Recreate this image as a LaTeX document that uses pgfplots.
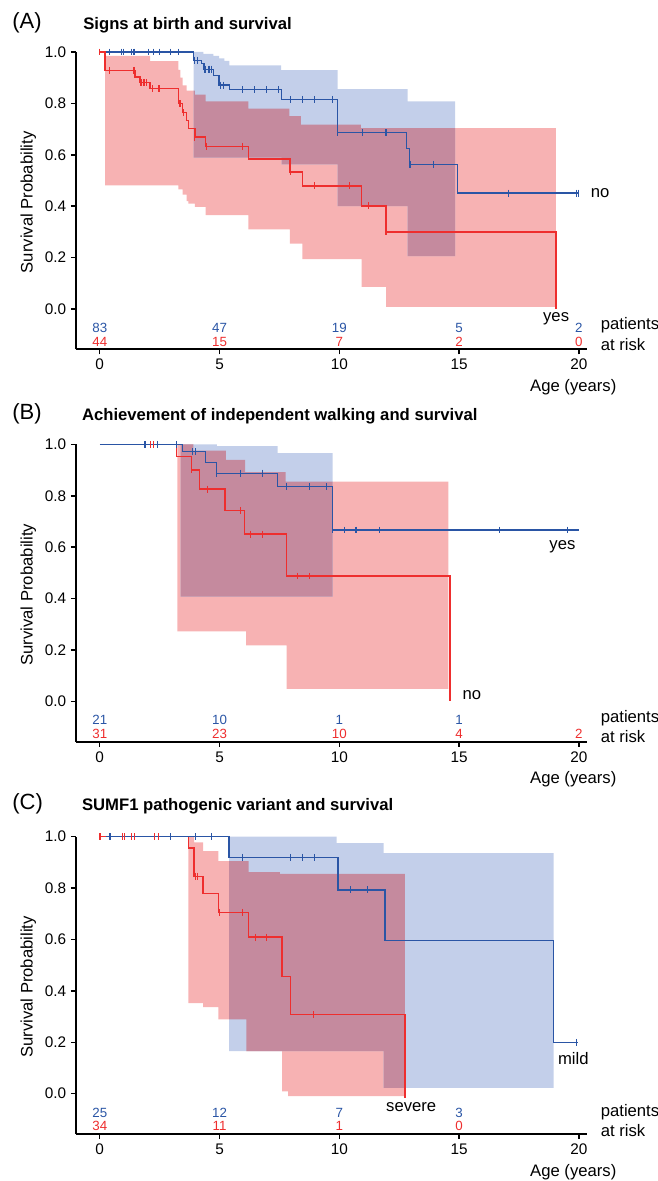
\documentclass[border=0pt]{standalone}
\usepackage{pgfplots}
\pgfplotsset{compat=1.18}
\usepgfplotslibrary{fillbetween}
\usepackage{fontspec}
\setmainfont{Liberation Sans}

\definecolor{kmred}{HTML}{EE2E2E}
\definecolor{kmblue}{HTML}{2A55A5}
\definecolor{bandred}{HTML}{F7B2B3}
\definecolor{bandblue}{HTML}{C3CFEA}
\definecolor{bandboth}{HTML}{C58A9E}

\newcommand{\numfont}{\fontsize{10}{12}\selectfont}
\newcommand{\labfont}{\fontsize{12.5}{14}\selectfont}

\tikzset{
  bn/.style={text=kmblue, font=\numfont},
  rn/.style={text=kmred, font=\numfont},
}
\pgfplotsset{
  kmaxis/.style={
    scale only axis, width=383.6pt, height=223pt,
    xmin=-1, xmax=20.35, ymin=-0.157, ymax=1.0,
    axis lines=left, axis line style={-, line width=1.4pt},
    xtick={0,5,10,15,20}, ytick={0,0.2,0.4,0.6,0.8,1},
    yticklabel style={/pgf/number format/.cd, fixed, fixed zerofill, precision=1},
    /pgf/number format/assume math mode=true,
    tick style={black, line width=1.1pt},
    tick align=outside, major tick length=3.75pt,
    tick label style={font=\fontsize{11.5}{13}\selectfont},
    clip=false, anchor=south west,
  },
  bnd/.style={draw=none, const plot, forget plot},
  kmline/.style={const plot, line width=1.0pt, forget plot},
  cens/.style={only marks, mark=|, mark size=2.6pt, mark options={line width=0.9pt}, forget plot},
}

\begin{document}
\begin{tikzpicture}

% ---------------- (A)
\node[anchor=west, font=\fontsize{16.5}{18}\selectfont] at (5.7pt,-17.25pt) {(A)};
\node[anchor=west, font=\fontsize{12.5}{14}\selectfont\bfseries] at (59pt,-18.75pt) {Signs at birth and survival};
\begin{axis}[kmaxis, at={(56.85pt,-261.98pt)}]
% confidence bands: red, blue, and their overlap
\addplot[bnd, name path=aru] coordinates {(0.22,0.985) (2.10,0.964) (3.28,0.93) (3.37,0.90) (3.46,0.87) (3.63,0.85) (3.97,0.834) (4.42,0.808) (6.20,0.78) (7.91,0.75) (8.40,0.717) (10.90,0.704) (19.04,0.704)};
\addplot[bnd, name path=arl] coordinates {(0.22,0.481) (3.28,0.465) (3.46,0.445) (3.63,0.42) (3.70,0.41) (3.97,0.397) (4.42,0.365) (6.20,0.31) (7.94,0.254) (8.46,0.194) (10.93,0.086) (11.95,0.008) (19.04,0.008)};
\addplot[fill=bandred] fill between[of=aru and arl];
\addplot[bnd, name path=abu] coordinates {(3.92,1.0) (4.32,0.993) (4.74,0.985) (4.98,0.975) (5.20,0.965) (5.41,0.948) (7.57,0.929) (9.93,0.855) (12.85,0.808) (14.83,0.808)};
\addplot[bnd, name path=abl] coordinates {(3.92,0.589) (7.59,0.563) (9.93,0.40) (12.85,0.206) (14.83,0.206)};
\addplot[fill=bandblue] fill between[of=abu and abl];
\addplot[bnd, name path=aou] coordinates {(3.92,0.85) (3.97,0.834) (4.42,0.808) (6.20,0.78) (7.91,0.75) (8.40,0.717) (10.90,0.704) (14.83,0.704)};
\addplot[fill=bandboth] fill between[of=aou and abl];
% curves
\addplot[kmline, color=kmred] coordinates {(0,1) (0.22,0.929) (1.47,0.903) (1.68,0.881) (2.10,0.857) (3.28,0.799) (3.46,0.764) (3.63,0.734) (3.70,0.702) (3.97,0.669) (4.42,0.633) (6.20,0.583) (7.94,0.533) (8.46,0.479) (10.93,0.401) (11.95,0.30) (19.04,0.0)};
\addplot[kmline, color=kmblue] coordinates {(0.25,1) (3.92,0.968) (4.25,0.955) (4.35,0.933) (4.74,0.909) (4.98,0.871) (5.41,0.854) (7.59,0.816) (9.93,0.686) (12.81,0.624) (12.92,0.563) (14.92,0.451) (20.0,0.451)};
\addplot[cens, color=kmred] coordinates {(0,1) (0.40,0.929) (1.43,0.929) (1.72,0.881) (1.85,0.881) (1.96,0.881) (2.21,0.857) (2.47,0.857) (3.35,0.799) (3.49,0.764) (3.97,0.669) (4.46,0.633) (5.96,0.633) (7.97,0.533) (8.96,0.479) (10.44,0.479) (11.21,0.401) (11.95,0.30)};
\addplot[cens, color=kmblue] coordinates {(0.40,1) (0.91,1) (0.98,1) (1.33,1) (1.43,1) (2.03,1) (2.26,1) (2.48,1) (2.96,1) (3.28,1) (3.97,0.968) (4.08,0.968) (4.39,0.933) (4.56,0.933) (4.67,0.933) (5.04,0.871) (5.16,0.871) (5.96,0.854) (6.45,0.854) (6.96,0.854) (7.45,0.854) (7.97,0.816) (8.47,0.816) (8.96,0.816) (9.71,0.816) (9.93,0.686) (10.96,0.686) (11.95,0.686) (12.95,0.563) (13.92,0.563) (17.05,0.451) (19.9,0.451) (20.0,0.451)};
% annotations
\node[anchor=west, font=\labfont] at (axis cs:20.3,0.451) {no};
\node[font=\labfont] at (axis cs:19.05,-0.037) {yes};
\node[bn] at (axis cs:0,-0.073) {83};
\node[bn] at (axis cs:5,-0.073) {47};
\node[bn] at (axis cs:10,-0.073) {19};
\node[bn] at (axis cs:15,-0.073) {5};
\node[bn] at (axis cs:20,-0.073) {2};
\node[rn] at (axis cs:0,-0.127) {44};
\node[rn] at (axis cs:5,-0.127) {15};
\node[rn] at (axis cs:10,-0.127) {7};
\node[rn] at (axis cs:15,-0.127) {2};
\node[rn] at (axis cs:20,-0.127) {0};
\node[anchor=west, font=\labfont] at (axis cs:20.72,-0.065) {patients};
\node[anchor=west, font=\labfont] at (axis cs:20.72,-0.138) {at risk};
\node[anchor=east, font=\labfont, yshift=-28.3pt] at (axis cs:21.76,-0.157) {Age (years)};
\node[rotate=90, font=\labfont] at (axis cs:-2.98,0.415) {Survival Probability};
\end{axis}

% ---------------- (B)
\node[anchor=west, font=\fontsize{16.5}{18}\selectfont] at (5.7pt,-310pt) {(B)};
\node[anchor=west, font=\fontsize{12.5}{14}\selectfont\bfseries] at (58pt,-312.5pt) {Achievement of independent walking and survival};
\begin{axis}[kmaxis, at={(56.85pt,-556.3pt)}]
\addplot[bnd, name path=bru] coordinates {(3.24,1.0) (3.91,0.976) (5.26,0.94) (6.07,0.892) (7.76,0.855) (14.55,0.855)};
\addplot[bnd, name path=brl] coordinates {(3.24,0.272) (6.11,0.218) (7.80,0.049) (14.55,0.049)};
\addplot[fill=bandred] fill between[of=bru and brl];
\addplot[bnd, name path=bbu] coordinates {(3.38,1.0) (4.89,0.993) (7.42,0.966) (9.72,0.966)};
\addplot[bnd, name path=bbl] coordinates {(3.38,0.408) (9.72,0.408)};
\addplot[fill=bandblue] fill between[of=bbu and bbl];
\addplot[bnd, name path=bou] coordinates {(3.38,1.0) (3.91,0.976) (5.26,0.94) (6.07,0.892) (7.76,0.855) (9.72,0.855)};
\addplot[fill=bandboth] fill between[of=bou and bbl];
\addplot[kmline, color=kmred] coordinates {(0,1) (3.21,0.953) (3.84,0.901) (4.16,0.826) (5.23,0.743) (6.04,0.651) (7.79,0.488) (14.62,0.0)};
\addplot[kmline, color=kmblue] coordinates {(0,1) (3.46,0.972) (4.40,0.929) (4.88,0.888) (7.42,0.836) (9.72,0.667) (20,0.667)};
\addplot[cens, color=kmred] coordinates {(2.12,1) (2.24,1) (3.84,0.901) (4.51,0.826) (5.86,0.743) (6.30,0.651) (6.79,0.651) (8.27,0.488) (8.75,0.488)};
\addplot[cens, color=kmblue] coordinates {(1.89,1) (2.40,1) (3.21,1) (3.88,0.972) (3.98,0.972) (4.86,0.888) (5.86,0.888) (6.78,0.888) (7.78,0.836) (8.75,0.836) (9.48,0.836) (9.72,0.667) (10.22,0.667) (10.70,0.667) (11.68,0.667) (16.68,0.667) (19.53,0.667)};
\node[anchor=east, font=\labfont] at (axis cs:20.05,0.603) {yes};
\node[anchor=west, font=\labfont] at (axis cs:14.95,0.026) {no};
\node[bn] at (axis cs:0,-0.073) {21};
\node[bn] at (axis cs:5,-0.073) {10};
\node[bn] at (axis cs:10,-0.073) {1};
\node[bn] at (axis cs:15,-0.073) {1};
\node[rn] at (axis cs:0,-0.127) {31};
\node[rn] at (axis cs:5,-0.127) {23};
\node[rn] at (axis cs:10,-0.127) {10};
\node[rn] at (axis cs:15,-0.127) {4};
\node[rn] at (axis cs:20,-0.127) {2};
\node[anchor=west, font=\labfont] at (axis cs:20.72,-0.065) {patients};
\node[anchor=west, font=\labfont] at (axis cs:20.72,-0.138) {at risk};
\node[anchor=east, font=\labfont, yshift=-28.3pt] at (axis cs:21.76,-0.157) {Age (years)};
\node[rotate=90, font=\labfont] at (axis cs:-2.98,0.415) {Survival Probability};
\end{axis}

% ---------------- (C)
\node[anchor=west, font=\fontsize{16.5}{18}\selectfont] at (5.7pt,-603pt) {(C)};
\node[anchor=west, font=\fontsize{12.5}{14}\selectfont\bfseries] at (58pt,-605pt) {SUMF1 pathogenic variant and survival};
\begin{axis}[kmaxis, at={(56.85pt,-850.5pt)}]
\addplot[bnd, name path=cru] coordinates {(3.70,1.0) (3.94,0.978) (4.31,0.944) (4.95,0.905) (6.21,0.862) (7.52,0.855) (12.74,0.855)};
\addplot[bnd, name path=crl] coordinates {(3.70,0.352) (4.31,0.337) (4.95,0.289) (6.12,0.166) (7.61,0.009) (7.86,-0.01) (12.74,-0.01)};
\addplot[fill=bandred] fill between[of=cru and crl];
\addplot[bnd, name path=cbu] coordinates {(5.40,1.0) (9.89,0.975) (11.85,0.936) (18.95,0.936)};
\addplot[bnd, name path=cbl] coordinates {(5.40,0.166) (11.85,0.023) (18.95,0.023)};
\addplot[fill=bandblue] fill between[of=cbu and cbl];
\addplot[bnd, name path=cou] coordinates {(5.40,0.905) (6.21,0.862) (7.52,0.855) (12.74,0.855)};
\addplot[bnd, name path=col] coordinates {(5.40,0.289) (6.12,0.166) (11.85,0.023) (12.74,0.023)};
\addplot[fill=bandboth] fill between[of=cou and col];
\addplot[kmline, color=kmred] coordinates {(0,1) (3.70,0.956) (3.94,0.846) (4.31,0.778) (4.95,0.706) (6.21,0.609) (7.61,0.457) (7.95,0.307) (12.74,-0.016)};
\addplot[kmline, color=kmblue] coordinates {(0.25,1) (5.40,0.920) (9.95,0.793) (11.91,0.596) (18.95,0.2) (19.95,0.2)};
\addplot[cens, color=kmred] coordinates {(0.01,1) (0.95,1) (1.02,1) (1.34,1) (1.46,1) (2.30,1) (2.45,1) (3.98,0.846) (4.08,0.846) (5.01,0.706) (5.96,0.706) (6.49,0.609) (6.96,0.609) (8.92,0.307)};
\addplot[cens, color=kmblue] coordinates {(0.43,1) (2.96,1) (3.98,1) (4.66,1) (5.96,0.92) (7.95,0.92) (8.45,0.92) (8.95,0.92) (10.45,0.793) (11.18,0.793) (19.9,0.2)};
\node[font=\labfont] at (axis cs:19.77,0.138) {mild};
\node[font=\labfont] at (axis cs:13.0,-0.053) {severe};
\node[bn] at (axis cs:0,-0.073) {25};
\node[bn] at (axis cs:5,-0.073) {12};
\node[bn] at (axis cs:10,-0.073) {7};
\node[bn] at (axis cs:15,-0.073) {3};
\node[rn] at (axis cs:0,-0.127) {34};
\node[rn] at (axis cs:5,-0.127) {11};
\node[rn] at (axis cs:10,-0.127) {1};
\node[rn] at (axis cs:15,-0.127) {0};
\node[anchor=west, font=\labfont] at (axis cs:20.72,-0.072) {patients};
\node[anchor=west, font=\labfont] at (axis cs:20.72,-0.144) {at risk};
\node[anchor=east, font=\labfont, yshift=-28.3pt] at (axis cs:21.76,-0.157) {Age (years)};
\node[rotate=90, font=\labfont] at (axis cs:-2.98,0.415) {Survival Probability};
\end{axis}
\pgfresetboundingbox
\path (0,0) rectangle (492.75pt,-885.75pt);
\end{tikzpicture}
\end{document}
